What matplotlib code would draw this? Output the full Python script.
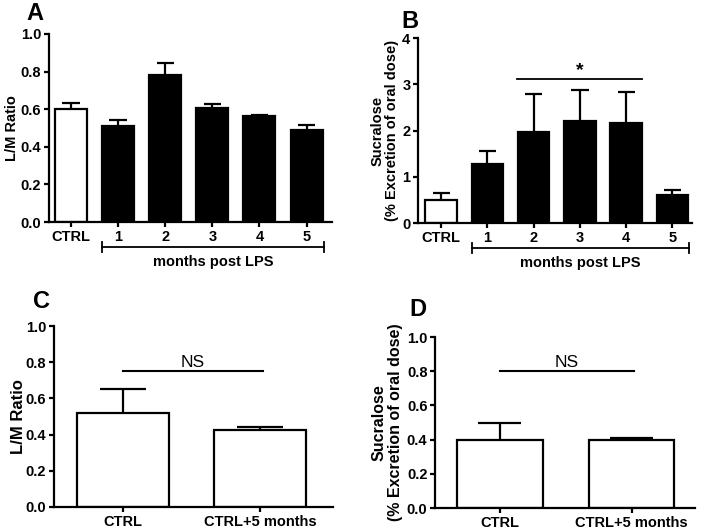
import matplotlib
matplotlib.use("Agg")
import matplotlib.pyplot as plt
import matplotlib.transforms as mtransforms

plt.rcParams['font.family'] = ['Liberation Sans', 'DejaVu Sans']
plt.rcParams['font.weight'] = 'bold'

# Panel A
a_labels = ["CTRL", "1", "2", "3", "4", "5"]
a_means = [0.60, 0.51, 0.78, 0.605, 0.565, 0.49]
a_errs = [0.035, 0.03, 0.065, 0.025, 0.005, 0.025]
a_colors = ["white", "black", "black", "black", "black", "black"]

# Panel B
b_labels = ["CTRL", "1", "2", "3", "4", "5"]
b_means = [0.50, 1.28, 1.97, 2.20, 2.17, 0.60]
b_errs = [0.15, 0.27, 0.81, 0.67, 0.66, 0.12]
b_colors = ["white", "black", "black", "black", "black", "black"]

# Panel C
c_labels = ["CTRL", "CTRL+5 months"]
c_means = [0.52, 0.425]
c_errs = [0.135, 0.02]

# Panel D
d_labels = ["CTRL", "CTRL+5 months"]
d_means = [0.395, 0.398]
d_errs = [0.105, 0.01]

fig = plt.figure(figsize=(7.04, 5.32), dpi=100)

LW = 1.6
TICK_FS = 10.5


def style_axis(ax):
    for s in ["top", "right"]:
        ax.spines[s].set_visible(False)
    for s in ["left", "bottom"]:
        ax.spines[s].set_linewidth(LW)
    ax.tick_params(direction="out", width=LW, length=3.5, labelsize=TICK_FS, pad=2)
    for lab in ax.get_xticklabels() + ax.get_yticklabels():
        lab.set_fontweight("bold")


def bars(ax, means, errs, colors, width, capfrac):
    x = list(range(len(means)))
    ax.bar(x, means, width=width, color=colors, edgecolor="black", linewidth=LW, zorder=2)
    for xi, m, e in zip(x, means, errs):
        ax.plot([xi, xi], [m, m + e], color="black", lw=LW, zorder=1, solid_capstyle="butt")
        ax.plot([xi - width * capfrac / 2, xi + width * capfrac / 2], [m + e, m + e],
                color="black", lw=LW, zorder=1, solid_capstyle="butt")
    return x


def bracket(ax, x0, x1, y, text, ty):
    tr = mtransforms.blended_transform_factory(ax.transData, ax.transAxes)
    ax.plot([x0, x1], [y, y], color="black", lw=1.3, transform=tr, clip_on=False)
    for xx in (x0, x1):
        ax.plot([xx, xx], [y - 0.028, y + 0.028], color="black", lw=1.3, transform=tr, clip_on=False)
    ax.text((x0 + x1) / 2, ty, text, transform=tr, ha="center", va="center",
            fontsize=TICK_FS, fontweight="bold")


# ---- A ----
axA = fig.add_axes([0.0696, 0.5827, 0.402, 0.3534])
xa = bars(axA, a_means, a_errs, a_colors, 0.68, 0.55)
axA.set_xlim(-0.47, 5.54)
axA.set_ylim(0, 1.0)
axA.set_yticks([0, 0.2, 0.4, 0.6, 0.8, 1.0])
axA.set_yticklabels(["0.0", "0.2", "0.4", "0.6", "0.8", "1.0"])
axA.set_xticks(xa)
axA.set_xticklabels(a_labels)
axA.set_ylabel("L/M Ratio", fontsize=TICK_FS, fontweight="bold", labelpad=1)
style_axis(axA)
bracket(axA, 0.66, 5.36, -0.133, "months post LPS", -0.213)

# ---- B ----
axB = fig.add_axes([0.5938, 0.5808, 0.389, 0.3477])
xb = bars(axB, b_means, b_errs, b_colors, 0.68, 0.55)
axB.set_xlim(-0.5, 5.42)
axB.set_ylim(0, 4)
axB.set_yticks([0, 1, 2, 3, 4])
axB.set_xticks(xb)
axB.set_xticklabels(b_labels)
axB.set_ylabel("Sucralose\n(% Excretion of oral dose)", fontsize=TICK_FS,
               fontweight="bold", labelpad=2, linespacing=1.1)
style_axis(axB)
bracket(axB, 0.66, 5.36, -0.135, "months post LPS", -0.215)
axB.plot([1.65, 4.35], [3.11, 3.11], color="black", lw=1.3)
axB.text(3.0, 3.3, "*", ha="center", va="center", fontsize=14, fontweight="bold")

# ---- C ----
axC = fig.add_axes([0.0767, 0.047, 0.3963, 0.340])
xc = bars(axC, c_means, c_errs, ["white", "white"], 0.67, 0.5)
axC.set_xlim(-0.5, 1.53)
axC.set_ylim(0, 1.0)
axC.set_yticks([0, 0.2, 0.4, 0.6, 0.8, 1.0])
axC.set_yticklabels(["0.0", "0.2", "0.4", "0.6", "0.8", "1.0"])
axC.set_xticks(xc)
axC.set_xticklabels(c_labels)
axC.set_ylabel("L/M Ratio", fontsize=12, fontweight="bold", labelpad=0)
style_axis(axC)
axC.plot([0, 1.02], [0.75, 0.75], color="black", lw=1.5)
axC.text(0.51, 0.797, "NS", ha="center", va="center", fontsize=12.5, fontweight="normal")

# ---- D ----
axD = fig.add_axes([0.618, 0.0451, 0.369, 0.3214])
xd = bars(axD, d_means, d_errs, ["white", "white"], 0.65, 0.5)
axD.set_xlim(-0.49, 1.48)
axD.set_ylim(0, 1.0)
axD.set_yticks([0, 0.2, 0.4, 0.6, 0.8, 1.0])
axD.set_yticklabels(["0.0", "0.2", "0.4", "0.6", "0.8", "1.0"])
axD.set_xticks(xd)
axD.set_xticklabels(d_labels)
axD.set_ylabel("Sucralose\n(% Excretion of oral dose)", fontsize=11.5,
               fontweight="bold", labelpad=3, linespacing=1.1)
style_axis(axD)
axD.plot([0, 1.02], [0.80, 0.80], color="black", lw=1.5)
axD.text(0.51, 0.85, "NS", ha="center", va="center", fontsize=12.5, fontweight="normal")

# panel letters
for (px, py, letter) in [(35, 14, "A"), (410, 21, "B"), (41, 301, "C"), (418, 309, "D")]:
    fig.text(px / 704, 1 - py / 532, letter, ha="center", va="center",
             fontsize=17, fontweight="bold")

fig.savefig("out.png", dpi=100)
